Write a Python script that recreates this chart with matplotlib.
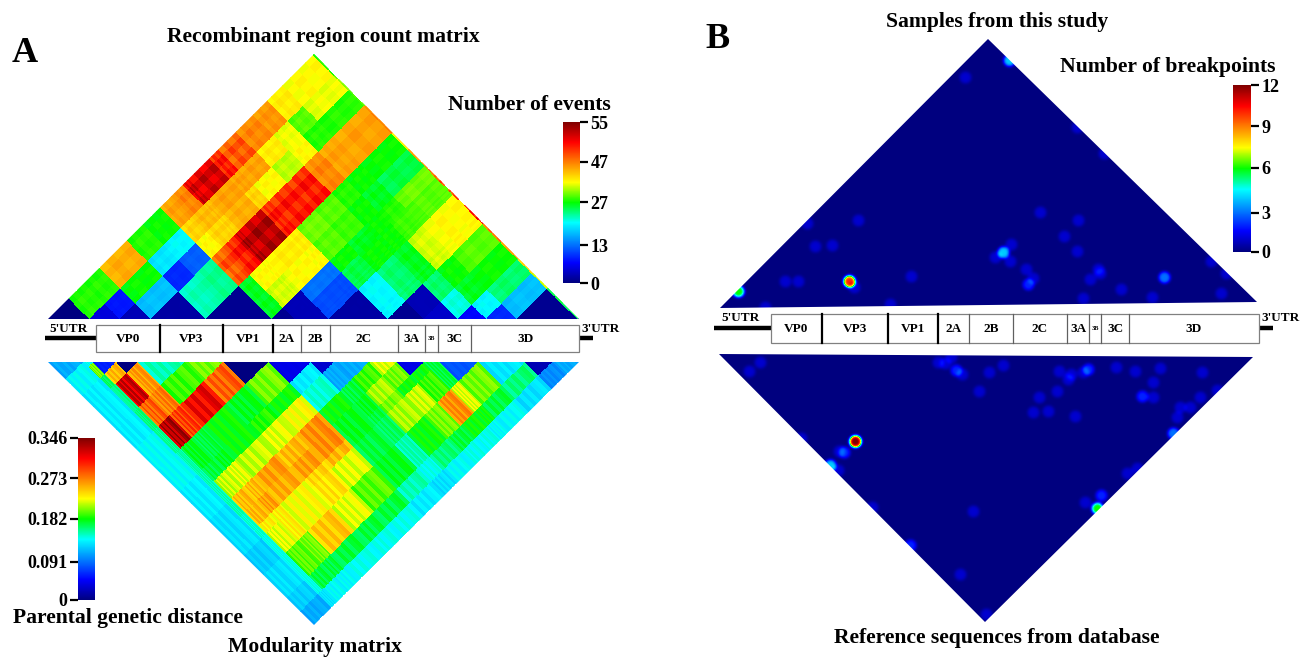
import numpy as np
import matplotlib
matplotlib.use('Agg')
import matplotlib.pyplot as plt
from matplotlib.colors import FuncNorm, LinearSegmentedColormap
from matplotlib.cm import ScalarMappable
from matplotlib.patches import Polygon, Rectangle

plt.rcParams['font.family'] = ['Liberation Serif', 'DejaVu Serif']
plt.rcParams['font.weight'] = 'bold'

###
# data
###

# genome segments of the recombinant region count matrix (nt)
count_breaks = [0, 585, 1004, 1436, 2202, 2648, 3122, 3440, 3757, 3921, 4494, 4742, 5240, 5714, 6111, 6535, 7381, 7400]
# upper triangle, one row per segment, starting on the diagonal
count_rows = [
    [0, 28, 28, 43, 28, 27, 44, 46, 52, 52, 50, 48, 46, 45, 38, 37, 28],
    [5, 8, 27, 19, 20, 40, 42, 42, 44, 44, 44, 38, 36, 30, 36, 32],
    [3, 17, 9, 12, 37, 40, 40, 43, 40, 37, 34, 37, 28, 28, 30],
    [2, 22, 23, 48, 50, 53, 53, 50, 50, 50, 46, 44, 44, 46],
    [1, 1, 26, 37, 37, 38, 38, 31, 30, 28, 27, 27, 38],
    [1, 26, 35, 35, 37, 37, 30, 29, 27, 26, 25, 44],
    [1, 3, 3, 13, 13, 27, 26, 27, 28, 31, 47],
    [3, 3, 11, 11, 25, 27, 27, 29, 30, 48],
    [3, 11, 11, 25, 27, 27, 29, 30, 48],
    [2, 2, 20, 24, 26, 35, 37, 50],
    [2, 20, 24, 26, 35, 37, 50],
    [1, 3, 24, 27, 30, 47],
    [4, 21, 26, 27, 44],
    [7, 20, 24, 40],
    [9, 17, 35],
    [1, 25],
    [1],
]
count_streaks = [-.015, .015, -.008, .01]

# genome segments of the modularity matrix (nt)
dist_breaks = [0, 498, 633, 958, 1256, 1907, 2449, 3074, 3670, 3995, 4483, 4864, 5243, 5460, 6003, 6654, 7033, 7400]
dist_rows = [
    [.11, .137, .137, .133, .133, .133, .137, .137, .133, .133, .128, .128, .128, .122, .128, .122, .11],
    [.14, .20, .165, .16, .16, .155, .15, .15, .15, .15, .145, .145, .14, .14, .14, .128],
    [.06, .25, .32, .28, .33, .175, .17, .215, .25, .25, .23, .22, .195, .17, .137],
    [.0, .26, .27, .29, .17, .175, .22, .25, .26, .23, .23, .2, .17, .137],
    [.15, .19, .31, .18, .18, .215, .26, .255, .225, .225, .245, .17, .14],
    [.2, .28, .175, .185, .22, .25, .26, .24, .235, .22, .17, .14],
    [.0, .2, .18, .225, .265, .265, .25, .22, .195, .17, .14],
    [.04, .132, .145, .18, .175, .175, .17, .175, .15, .132],
    [.03, .11, .17, .175, .17, .165, .15, .14, .128],
    [.11, .19, .21, .2, .21, .18, .16, .137],
    [.22, .2, .18, .215, .2, .17, .14],
    [.04, .18, .19, .265, .18, .14],
    [.17, .17, .22, .18, .137],
    [.08, .2, .17, .137],
    [.13, .16, .128],
    [.02, .10],
    [.11],
]
dist_streaks = [-.04, .03, -.02, .035, -.03, .02, .04, -.025]

# breakpoint hot spots, panel B
top_x = [1009, 965, 1077, 1104, 1040, 1078, 1064, 1077, 1211, 1098, 815, 832, 785, 798, 849, 854, 911, 738, 765, 890,
         1003, 995, 1011, 1010, 1026, 1033, 1028, 1090, 1100, 1121, 1083, 1164, 1152, 1221, 1226, 858, 807]
top_y = [60, 77, 127, 153, 212, 220, 236, 251, 261, 269, 246, 245, 281, 281, 281, 287, 276, 291, 307, 304,
         252, 257, 244, 261, 269, 278, 284, 279, 273, 289, 298, 277, 297, 293, 273, 220, 223]
top_n = [4, 1, 1, 1, 1, 1, 1, 1, 1, 1, 1, 1, 1, 1, 10, 1, 1, 6, 1, 1,
         4, 1, 1, 1, 1, 1, 2, 1, 1, 1, 1, 3, 1, 1, 1, 1, 1]

bot_x = [760, 749, 938, 945, 951, 956, 962, 989, 1003, 979, 1059, 1071, 1068, 1083, 1088, 1116, 1135, 1160, 1202,
         1153, 1057, 1039, 1142, 1153, 1200, 1217, 1180, 1190, 1177, 1048, 1033, 1075, 855, 839, 844, 830, 838, 801,
         1173, 1127, 1137, 1085, 1101, 1097, 973, 910, 960, 986, 872]
bot_y = [362, 371, 362, 363, 357, 370, 374, 372, 365, 391, 371, 374, 379, 372, 369, 367, 371, 368, 372,
         382, 391, 397, 396, 397, 397, 390, 407, 407, 417, 411, 412, 416, 441, 451, 452, 465, 470, 438,
         433, 473, 468, 502, 495, 508, 511, 545, 574, 614, 507]
bot_n = [1, 1, 1, 1, 1, 2, 1, 1, 1, 1, 1, 1, 1, 1, 2, 1, 1, 1, 1,
         1, 1, 1, 2, 1, 1, 1, 1, 1, 1, 1, 1, 1, 12, 1, 2, 4, 1, 1,
         3, 1, 1, 1, 2, 6, 1, 2, 1, 1, 1]

# gene map (nt), same genes but drawn with different widths in both panels
gene_names = ['VP0', 'VP3', 'VP1', '2A', '2B', '2C', '3A', '3B', '3C', '3D']
genes_a = [670, 1560, 2440, 3135, 3530, 3930, 4880, 5255, 5435, 5900, 7400]
genes_b = [670, 1373, 2284, 2974, 3401, 4008, 4753, 5057, 5222, 5608, 7400]

# colour bars (values with their place on the bar, the scale is not linear)
places = [0, .236, .503, .752, 1]
event_ticks = [0, 13, 27, 47, 55]
dist_ticks = [0, .091, .182, .273, .346]
bp_ticks = [0, 3, 6, 9, 12]

rainbow = LinearSegmentedColormap.from_list('rainbow_map', [
    (0, (0, 0, .5)), (.125, (0, 0, 1)), (.375, (0, 1, 1)), (.5, (0, 1, 0)),
    (.625, (1, 1, 0)), (.875, (1, 0, 0)), (1, (.5, 0, 0))], N=512)

###
# helper functions
###

def make_norm(ticks):
    return FuncNorm((lambda v: np.interp(v, ticks, places), lambda p: np.interp(p, places, ticks)),
                    vmin=ticks[0], vmax=ticks[-1])


def split_breaks(breaks, parts):
    # every segment cut into equal strips
    out = []
    for a, b in zip(breaks[:-1], breaks[1:]):
        out.extend(np.linspace(a, b, parts, endpoint=False))
    out.append(breaks[-1])
    return np.array(out)


def draw_matrix(ax, breaks, rows, norm, streaks, both, left, base, right, tip):
    # matrix cell (i, j) sits on the 45 degree grid above the genome segments i and j
    n = len(rows)
    m = len(streaks)
    mv = m if both else 1
    data = np.ma.masked_all((n * m, n * mv))
    for i, row in enumerate(rows):
        for j, value in enumerate(row, start=i):
            for p in range(m):
                for q in range(mv):
                    extra = streaks[p] + (streaks[q] if both else 0)
                    data[i * m + p, j * mv + q] = value * (1 + extra)
    k = (right - left) / breaks[-1]
    u, v = np.meshgrid(split_breaks(breaks, m), split_breaks(breaks, mv), indexing='ij')
    h = (tip - base) / (right - left) * 2
    x = left + k * (u + v) / 2
    y = base + h * k * (v - u) / 2
    mesh = ax.pcolormesh(x, y, data, cmap=rainbow, norm=norm, linewidth=0, rasterized=True, antialiased=False)
    poly = Polygon([(left, base), (right, base), ((left + right) / 2, tip)], transform=ax.transData, fc='none', ec='none')
    ax.add_patch(poly)
    mesh.set_clip_path(poly)


def draw_breakpoints(ax, px, py, counts, norm, corners):
    # each hot spot is a round plateau, overlapping ones add up
    xs = np.arange(700, 1270)
    ys = np.arange(30, 630)
    gx, gy = np.meshgrid(xs, ys)
    field = np.zeros(gx.shape)
    for a, b, c in zip(px, py, counts):
        field += c * np.exp(-(np.hypot(gx - a, gy - b) / 6.2) ** 4)
    field = np.minimum(field, 12)
    im = ax.imshow(field, extent=(700, 1270, 630, 30), cmap=rainbow, norm=norm, aspect='auto', interpolation='bilinear')
    poly = Polygon(corners, transform=ax.transData, fc='none', ec='none')
    ax.add_patch(poly)
    im.set_clip_path(poly)


def draw_genome(ax, genes, x_start, x_end, top, bottom, x_left, line_y, text_y):
    k = (x_end - x_start) / (genes[-1] - genes[0])
    xs = [x_start + (g - genes[0]) * k for g in genes]
    ax.plot([x_left, x_start], [line_y, line_y], color='black', lw=3.2, solid_capstyle='butt')
    ax.plot([x_end, x_end + 14], [line_y, line_y], color='black', lw=3.2, solid_capstyle='butt')
    ax.add_patch(Rectangle((x_start, top), x_end - x_start, bottom - top, fc='white', ec='#808080', lw=0.9, zorder=3))
    for i, g in enumerate(gene_names):
        mid = (xs[i] + xs[i + 1]) / 2
        ax.text(mid, (top + bottom) / 2, g, ha='center', va='center', fontsize=4.5 if g == '3B' else 9.5, zorder=4)
        if i > 0:
            ax.plot([xs[i], xs[i]], [top, bottom], color='black' if i < 4 else '#606060',
                    lw=1.6 if i < 4 else 0.9, zorder=4)
    ax.text((x_left + x_start) / 2 - 2, text_y, "5'UTR", ha='center', va='center', fontsize=9.5)
    ax.text(x_end + 2, text_y, "3'UTR", ha='left', va='center', fontsize=9.5)


def add_bar(fig, rect, ticks, side):
    norm = make_norm(ticks)
    x, y, w, h = rect
    cax = fig.add_axes([x / 1311, 1 - (y + h) / 658, w / 1311, h / 658])
    bar = fig.colorbar(ScalarMappable(norm=norm, cmap=rainbow), cax=cax, ticks=ticks)
    bar.outline.set_visible(False)
    bar.ax.minorticks_off()
    bar.ax.yaxis.set_ticks_position(side)
    bar.ax.set_yticklabels(['%g' % t for t in ticks])
    bar.ax.tick_params(length=6, width=1.6, labelsize=13, pad=1.5)
    return norm


###
# figure
###

fig = plt.figure(figsize=(13.11, 6.58), dpi=100)
ax = fig.add_axes([0, 0, 1, 1])

event_norm = make_norm(event_ticks)
dist_norm = make_norm(dist_ticks)
bp_norm = make_norm(bp_ticks)

draw_matrix(ax, count_breaks, count_rows, event_norm, count_streaks, True, 48, 319, 579, 54)
draw_matrix(ax, dist_breaks, dist_rows, dist_norm, dist_streaks, False, 48, 362, 579, 625)

draw_breakpoints(ax, top_x, top_y, top_n, bp_norm, [(720, 308), (1257, 302), (988, 39)])
draw_breakpoints(ax, bot_x, bot_y, bot_n, bp_norm, [(719, 354), (1253, 357), (985, 622)])

draw_genome(ax, genes_a, 96, 579, 325, 352, 45, 338, 329)
draw_genome(ax, genes_b, 771, 1259, 314, 343, 714, 328, 318)

ax.set_xlim(0, 1311)
ax.set_ylim(658, 0)
ax.axis('off')

add_bar(fig, (563, 122, 17, 161), event_ticks, 'right')
add_bar(fig, (78, 438, 17, 162), dist_ticks, 'left')
add_bar(fig, (1233, 85, 18, 167), bp_ticks, 'right')

ax.text(25, 53, 'A', fontsize=26, ha='center', va='center')
ax.text(717, 40, 'B', fontsize=26, ha='center', va='center')

title_size = 15.6
ax.text(323, 37, 'Recombinant region count matrix', fontsize=title_size, ha='center', va='center')
ax.text(529, 105, 'Number of events', fontsize=title_size, ha='center', va='center')
ax.text(128, 618, 'Parental genetic distance', fontsize=title_size, ha='center', va='center')
ax.text(315, 647, 'Modularity matrix', fontsize=title_size, ha='center', va='center')
ax.text(997, 22, 'Samples from this study', fontsize=title_size, ha='center', va='center')
ax.text(997, 638, 'Reference sequences from database', fontsize=title_size, ha='center', va='center')
ax.text(1168, 67, 'Number of breakpoints', fontsize=title_size, ha='center', va='center')

plt.savefig('out.png', dpi=100)
